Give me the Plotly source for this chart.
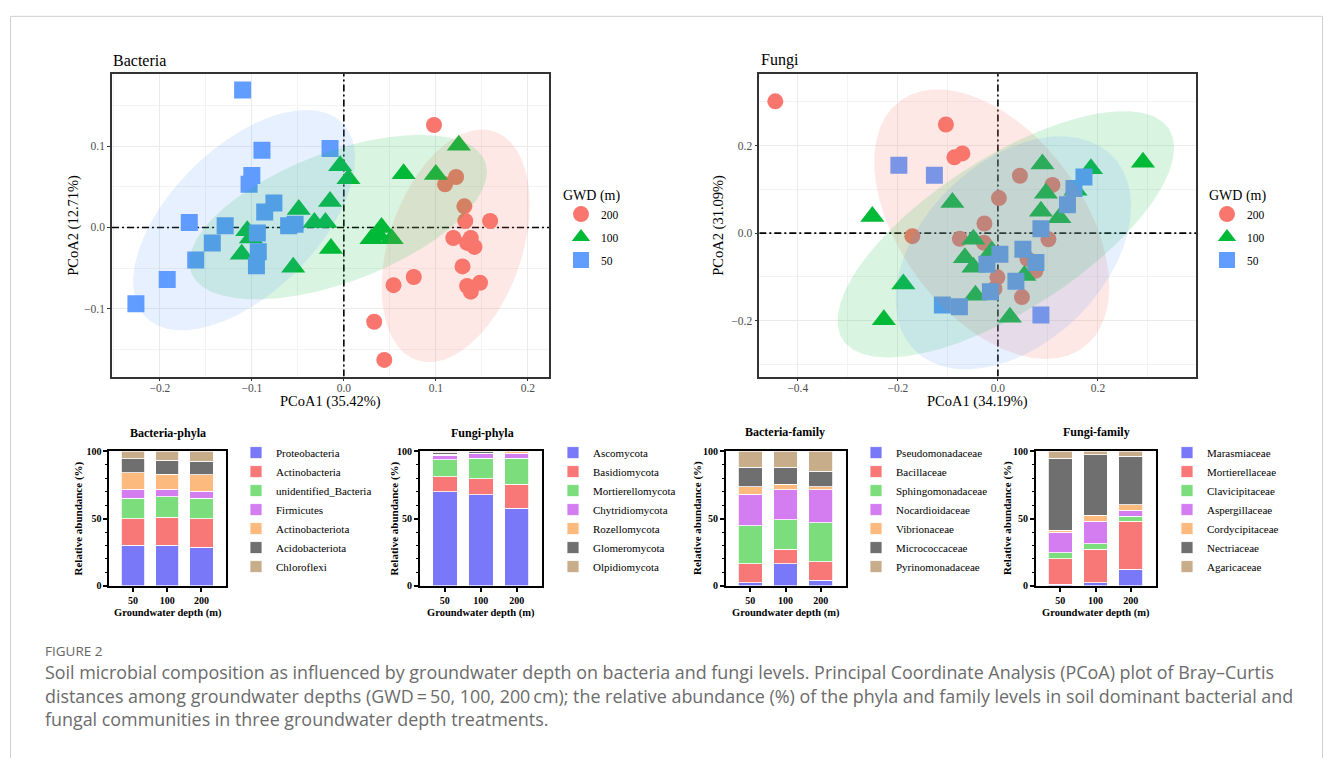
import numpy as np
import plotly.graph_objects as go

W, H = 1333, 758


def PX(x):
    return x / W


def PY(y):
    return 1 - y / H


# ---------------- PCoA data (Bray-Curtis) ----------------
bac_200_x = [0.098, 0.122, 0.110, 0.131, 0.132, 0.159, 0.119, 0.138, 0.134, 0.142, 0.129, 0.134, 0.148, 0.138, 0.076, 0.054, 0.033, 0.044]
bac_200_y = [0.126, 0.062, 0.053, 0.026, 0.008, 0.008, -0.013, -0.013, -0.019, -0.024, -0.048, -0.072, -0.068, -0.079, -0.061, -0.071, -0.116, -0.163]
bac_100_x = [-0.004, 0.005, -0.015, -0.049, -0.032, -0.020, -0.105, -0.101, -0.111, -0.014, -0.055, 0.125, 0.065, 0.100, 0.041, 0.030, 0.052, 0.038]
bac_100_y = [0.076, 0.060, 0.032, 0.022, 0.006, 0.006, -0.004, -0.013, -0.033, -0.026, -0.049, 0.101, 0.066, 0.065, 0.000, -0.014, -0.014, -0.010]
bac_50_x = [-0.110, -0.089, -0.015, -0.100, -0.103, -0.076, -0.086, -0.168, -0.129, -0.094, -0.143, -0.093, -0.095, -0.161, -0.192, -0.226, -0.060, -0.053]
bac_50_y = [0.169, 0.095, 0.097, 0.064, 0.053, 0.030, 0.019, 0.006, 0.002, -0.007, -0.019, -0.030, -0.047, -0.040, -0.064, -0.094, 0.002, 0.004]

fun_200_x = [-0.445, -0.104, -0.087, -0.071, 0.002, -0.027, -0.171, -0.076, -0.028, -0.001, -0.007, 0.044, 0.109, 0.101, 0.059, 0.075, 0.048]
fun_200_y = [0.301, 0.248, 0.173, 0.182, 0.080, 0.022, -0.007, -0.013, -0.022, -0.101, -0.127, 0.131, 0.110, -0.014, -0.059, -0.086, -0.146]
fun_100_x = [-0.251, -0.091, -0.189, -0.228, -0.049, -0.012, -0.066, -0.049, -0.045, 0.024, 0.089, 0.186, 0.290, 0.155, 0.096, 0.086, 0.123, 0.053]
fun_100_y = [0.038, 0.070, -0.116, -0.198, -0.014, -0.041, -0.056, -0.078, -0.142, -0.192, 0.158, 0.147, 0.162, 0.098, 0.091, 0.050, 0.035, -0.097]
fun_50_x = [-0.198, -0.127, 0.004, -0.022, -0.015, -0.111, -0.077, 0.172, 0.152, 0.139, 0.086, 0.050, 0.076, 0.036, 0.086]
fun_50_y = [0.155, 0.132, -0.048, -0.071, -0.134, -0.164, -0.168, 0.128, 0.102, 0.065, 0.010, -0.037, -0.067, -0.110, -0.187]

bac_x_range = [-0.252, 0.223]
bac_y_range = [-0.1834, 0.1887]
fun_x_range = [-0.477, 0.396]
fun_y_range = [-0.3275, 0.3633]

gwd_labels = ["200", "100", "50"]
gwd_colors = ["#F8766D", "#00BA38", "#619CFF"]
gwd_fills = ["rgba(248,118,109,0.17)", "rgba(0,186,56,0.15)", "rgba(97,156,255,0.15)"]
gwd_symbols = ["circle", "triangle-up", "square"]
gwd_sizes = [16, 21, 17]

# ---------------- Relative abundance data (%) ----------------
depth_categories = ["50", "100", "200"]
stack_colors = ["#7878F8", "#F87878", "#7BDD7B", "#D37DF0", "#FCBA7E", "#6F6F6F", "#C8AD8B"]

bp_names = ["Proteobacteria", "Actinobacteria", "unidentified_Bacteria", "Firmicutes",
            "Actinobacteriota", "Acidobacteriota", "Chloroflexi"]
bp_values = [[30.0, 30.1, 28.7], [19.8, 20.9, 21.1], [15.2, 15.2, 15.2], [6.8, 5.6, 5.3],
             [12.2, 11.2, 12.3], [10.4, 10.6, 10.0], [5.6, 6.4, 7.4]]

fp_names = ["Ascomycota", "Basidiomycota", "Mortierellomycota", "Chytridiomycota",
            "Rozellomycota", "Glomeromycota", "Olpidiomycota"]
fp_values = [[70.0, 67.6, 57.8], [11.2, 12.2, 17.8], [12.5, 15.3, 19.5], [3.5, 3.2, 3.7],
             [0.8, 0.3, 0.8], [1.2, 1.0, 0.2], [0.8, 0.4, 0.2]]

bf_names = ["Pseudomonadaceae", "Bacillaceae", "Sphingomonadaceae", "Nocardioidaceae",
            "Vibrionaceae", "Micrococcaceae", "Pyrinomonadaceae"]
bf_values = [[2.4, 16.3, 4.1], [13.9, 11.0, 13.7], [28.3, 22.0, 29.0], [23.4, 22.2, 24.7],
             [5.9, 3.9, 2.2], [14.4, 12.9, 11.7], [11.7, 11.7, 14.6]]

ff_names = ["Marasmiaceae", "Mortierellaceae", "Clavicipitaceae", "Aspergillaceae",
            "Cordycipitaceae", "Nectriaceae", "Agaricaceae"]
ff_values = [[1.2, 2.4, 12.2], [19.0, 24.9, 35.8], [4.2, 3.9, 3.9], [15.4, 16.8, 4.2],
             [1.7, 4.4, 4.1], [53.6, 45.2, 36.1], [4.9, 2.4, 3.7]]

SERIF = "Liberation Serif"


def cov_trob(X, nu=5, maxit=25, tol=0.01):
    n, p = X.shape
    loc = X.mean(axis=0)
    w = np.ones(n)
    Xc = X - loc
    for _ in range(maxit):
        w0 = w
        Xc = X - loc
        S = (Xc * (w / w.sum())[:, None]).T @ Xc
        Q = np.einsum("ij,jk,ik->i", Xc, np.linalg.inv(S), Xc)
        w = (nu + p) / (nu + Q)
        loc = (w[:, None] * X).sum(axis=0) / w.sum()
        if np.all(np.abs(w - w0) < tol):
            break
    cov = (Xc * w[:, None]).T @ Xc / n
    return loc, cov


def stat_ellipse(xs, ys, level=0.95, segments=51):
    X = np.column_stack([xs, ys])
    n = len(X)
    loc, cov = cov_trob(X)
    dfd = n - 1
    fq = dfd / 2.0 * ((1 - level) ** (-2.0 / dfd) - 1)
    radius = np.sqrt(2 * fq)
    R = np.linalg.cholesky(cov).T
    t = np.linspace(0, 2 * np.pi, segments + 1)
    uc = np.column_stack([np.cos(t), np.sin(t)])
    E = loc + radius * (uc @ R)
    return E[:, 0], E[:, 1]


fig = go.Figure()

zero_line = dict(color="black", width=1.6, dash="7px,3px,2px,3px")
pcoa_sets = [
    ("x", "y", "legend", "bac", bac_x_range, bac_y_range,
     [(bac_200_x, bac_200_y), (bac_100_x, bac_100_y), (bac_50_x, bac_50_y)]),
    ("x2", "y2", "legend2", "fun", fun_x_range, fun_y_range,
     [(fun_200_x, fun_200_y), (fun_100_x, fun_100_y), (fun_50_x, fun_50_y)]),
]
for xa, ya, lg, tag, xr, yr, groups in pcoa_sets:
    # dash-dot reference lines at PCoA = 0
    fig.add_trace(go.Scatter(x=[0, 0], y=yr, mode="lines", line=zero_line, xaxis=xa, yaxis=ya,
                             showlegend=False, hoverinfo="skip", cliponaxis=True))
    fig.add_trace(go.Scatter(x=xr, y=[0, 0], mode="lines", line=zero_line, xaxis=xa, yaxis=ya,
                             showlegend=False, hoverinfo="skip", cliponaxis=True))
    for i, (gx, gy) in enumerate(groups):
        fig.add_trace(go.Scatter(
            x=gx, y=gy, mode="markers", name=gwd_labels[i], xaxis=xa, yaxis=ya,
            legend=lg, legendgroup=tag + gwd_labels[i],
            marker=dict(symbol=gwd_symbols[i], size=gwd_sizes[i], color=gwd_colors[i],
                        line=dict(width=0)),
        ))
    for i, (gx, gy) in enumerate(groups):
        ex, ey = stat_ellipse(gx, gy)
        fig.add_trace(go.Scatter(
            x=ex, y=ey, mode="lines", fill="toself", fillcolor=gwd_fills[i],
            line=dict(width=0, color=gwd_fills[i]), xaxis=xa, yaxis=ya,
            showlegend=False, hoverinfo="skip",
        ))

bar_sets = [
    ("x3", "y3", "legend3", bp_names, bp_values),
    ("x4", "y4", "legend4", fp_names, fp_values),
    ("x5", "y5", "legend5", bf_names, bf_values),
    ("x6", "y6", "legend6", ff_names, ff_values),
]
for xa, ya, lg, names, vals in bar_sets:
    for i, (nm, v) in enumerate(zip(names, vals)):
        fig.add_trace(go.Bar(
            x=depth_categories, y=v, name=nm, xaxis=xa, yaxis=ya, legend=lg,
            width=0.68, marker=dict(color=stack_colors[i], line=dict(color="white", width=0.8)),
        ))

# ---------------- layout ----------------
pc_y_dom = [PY(376), PY(69)]
grid_major = "#EBEBEB"
grid_minor = "#F3F3F3"
tickfont_pc = dict(family=SERIF, size=11.5, color="#4D4D4D")


def pc_axis(domain, rng, dtick, minor_dtick, anchor, standoff=0):
    return dict(
        domain=domain, range=rng, anchor=anchor, dtick=dtick, tick0=0,
        showgrid=True, gridcolor=grid_major, gridwidth=1, zeroline=False,
        showline=True, mirror=True, linecolor="#333333", linewidth=1.6,
        ticks="outside", ticklen=3, tickwidth=1, tickcolor="#333333",
        tickfont=tickfont_pc, tickformat=".1f", ticklabelstandoff=standoff,
        minor=dict(dtick=minor_dtick, tick0=0, showgrid=True, gridcolor=grid_minor,
                   gridwidth=0.7, ticks=""),
    )


layout = dict(
    width=W, height=H, margin=dict(l=0, r=0, t=0, b=0),
    paper_bgcolor="white", plot_bgcolor="white", barmode="stack",
    showlegend=True, font=dict(family=SERIF, color="black"),
    xaxis=pc_axis([PX(112), PX(549)], bac_x_range, 0.1, 0.05, "y", -3),
    yaxis=pc_axis(pc_y_dom, bac_y_range, 0.1, 0.05, "x"),
    xaxis2=pc_axis([PX(759.3), PX(1196)], fun_x_range, 0.2, 0.1, "y2", -3),
    yaxis2=pc_axis(pc_y_dom, fun_y_range, 0.2, 0.1, "x2"),
)

bar_x_doms = [[109.3, 225.7], [420, 542.3], [726, 845.7], [1036, 1155.7]]
bar_y_dom = [PY(588.3), PY(452)]
bold_tick = dict(family=SERIF, size=10, color="black", weight=700)
for k, (x0, x1) in enumerate(bar_x_doms):
    n = k + 3
    layout["xaxis%d" % n] = dict(
        domain=[PX(x0), PX(x1)], anchor="y%d" % n, type="category",
        range=[-0.69, 2.71], showgrid=False, zeroline=False,
        showline=True, mirror=True, linecolor="black", linewidth=1.8,
        ticks="outside", ticklen=4, tickwidth=1.5, tickcolor="black",
        tickfont=bold_tick,
    )
    layout["yaxis%d" % n] = dict(
        domain=bar_y_dom, anchor="x%d" % n, range=[0, 100], dtick=50, tick0=0,
        showgrid=False, zeroline=False,
        showline=True, mirror=True, linecolor="black", linewidth=1.8,
        ticks="outside", ticklen=4, tickwidth=1.5, tickcolor="black",
        tickfont=bold_tick,
        minor=dict(dtick=10, ticks="outside", ticklen=2.5, tickwidth=1, tickcolor="black"),
    )

legend_item_font = dict(family=SERIF, size=11.5, color="black")
legend_title_font = dict(family=SERIF, size=14, color="black")
layout["legend"] = dict(
    x=PX(561), y=PY(178), xanchor="left", yanchor="top", bgcolor="rgba(0,0,0,0)",
    title=dict(text="GWD (m)", font=legend_title_font), font=legend_item_font,
    traceorder="grouped", tracegroupgap=4, itemsizing="trace",
)
layout["legend2"] = dict(
    x=PX(1207), y=PY(178), xanchor="left", yanchor="top", bgcolor="rgba(0,0,0,0)",
    title=dict(text="GWD (m)", font=legend_title_font), font=legend_item_font,
    traceorder="grouped", tracegroupgap=4, itemsizing="trace",
)
bar_leg_x = [236, 553, 856, 1167]
for k, lx in enumerate(bar_leg_x):
    layout["legend%d" % (k + 3)] = dict(
        x=PX(lx), y=PY(511), xanchor="left", yanchor="middle", bgcolor="rgba(0,0,0,0)",
        font=dict(family=SERIF, size=11, color="black"), traceorder="normal",
    )

fig.update_layout(**layout)

# page frame
fig.update_layout(shapes=[dict(type="rect", xref="paper", yref="paper", x0=PX(10.5), x1=PX(1322.5),
                               y0=-0.05, y1=PY(10.5), line=dict(color="#CFCFCF", width=1),
                               layer="above")])

ann = []


def add_text(text, x, y, size, xanchor="center", yanchor="middle", angle=0, bold=False,
             family=SERIF, color="black"):
    ann.append(dict(text=text, x=PX(x), y=PY(y), xref="paper", yref="paper",
                    xanchor=xanchor, yanchor=yanchor, textangle=angle, showarrow=False,
                    font=dict(family=family, size=size, color=color, weight=700 if bold else 400)))


add_text("Bacteria", 111, 55, 16, xanchor="left")
add_text("Fungi", 758.5, 55, 16, xanchor="left")
add_text("PCoA1 (35.42%)", 330.5, 401, 14.5)
add_text("PCoA2 (12.71%)", 74, 223, 14.5, angle=-90)
add_text("PCoA1 (34.19%)", 977.7, 401, 14.5)
add_text("PCoA2 (31.09%)", 719, 223, 14.5, angle=-90)

bar_titles = ["Bacteria-phyla", "Fungi-phyla", "Bacteria-family", "Fungi-family"]
bar_title_pos = [(167.5, 433), (482, 433), (785, 432), (1096, 432)]
ytitle_x = [78, 394, 697.5, 1007.5]
for k, t in enumerate(bar_titles):
    x0, x1 = bar_x_doms[k]
    add_text(t, bar_title_pos[k][0], bar_title_pos[k][1], 12, bold=True)
    add_text("Relative abundance (%)", ytitle_x[k], 520, 11, angle=-90, bold=True)
    add_text("Groundwater depth (m)", (x0 + x1) / 2, 616, 10.5, bold=True)

CAP = "Open Sans"
add_text("FIGURE 2", 43, 654, 13.5, xanchor="left", family=CAP, color="#666666")
cap_lines = [
    "Soil microbial composition as influenced by groundwater depth on bacteria and fungi levels. Principal Coordinate Analysis (PCoA) plot of Bray\u2013Curtis",
    "distances among groundwater depths (GWD\u2009=\u200950, 100, 200\u2009cm); the relative abundance (%) of the phyla and family levels in soil dominant bacterial and",
    "fungal communities in three groundwater depth treatments.",
]
for i, line in enumerate(cap_lines):
    add_text(line, 43, 676 + 24 * i, 17.9, xanchor="left", family=CAP, color="#6B6B6B")

fig.update_layout(annotations=ann)

fig.write_html(
    "out.html",
    config={"displayModeBar": False},
    post_script="document.body.style.margin='0';document.body.style.overflow='hidden';",
)
